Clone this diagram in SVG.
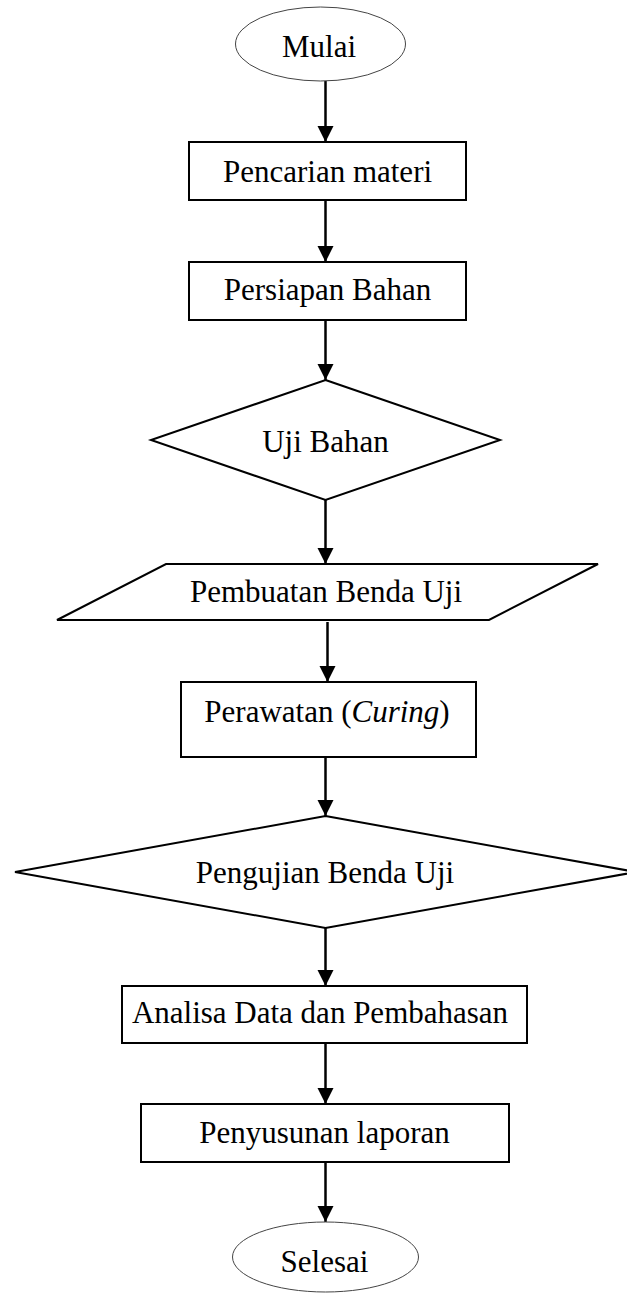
<svg xmlns="http://www.w3.org/2000/svg" width="627" height="1293" viewBox="0 0 627 1293">
<style>
.shape{fill:#fff;stroke:#000;stroke-width:2}
.term{fill:#fff;stroke:#444;stroke-width:1}
.lbl{font-family:"Liberation Serif","Times New Roman",serif;font-size:31px;fill:#000;text-anchor:middle}
.conn{stroke:#000;stroke-width:2.5;fill:none}
</style>
<defs>
<marker id="ah" markerUnits="userSpaceOnUse" markerWidth="16" markerHeight="17" refX="16" refY="8" orient="auto" viewBox="0 0 16 16">
<path d="M0,0 L16,8 L0,16 z" fill="#000"/>
</marker>
</defs>
<rect width="627" height="1293" fill="#fff"/>
<g id="connectors">
<line class="conn" x1="325.5" y1="81" x2="325.5" y2="142" marker-end="url(#ah)"/>
<line class="conn" x1="325.5" y1="200" x2="325.5" y2="262" marker-end="url(#ah)"/>
<line class="conn" x1="325.5" y1="320" x2="325.5" y2="380" marker-end="url(#ah)"/>
<line class="conn" x1="325.5" y1="500" x2="325.5" y2="564" marker-end="url(#ah)"/>
<line class="conn" x1="327.5" y1="622" x2="327.5" y2="682" marker-end="url(#ah)"/>
<line class="conn" x1="325.5" y1="757" x2="325.5" y2="816" marker-end="url(#ah)"/>
<line class="conn" x1="325.5" y1="928" x2="325.5" y2="986" marker-end="url(#ah)"/>
<line class="conn" x1="325.5" y1="1043" x2="325.5" y2="1104" marker-end="url(#ah)"/>
<line class="conn" x1="325.5" y1="1162" x2="325.5" y2="1222" marker-end="url(#ah)"/>
</g>
<g id="mulai">
<ellipse class="term" cx="320.5" cy="44" rx="85" ry="37"/>
<text class="lbl" x="319" y="57">Mulai</text>
</g>
<g id="pencarian">
<rect class="shape" x="189" y="142" width="277" height="58"/>
<text class="lbl" x="327.5" y="182">Pencarian materi</text>
</g>
<g id="persiapan">
<rect class="shape" x="189" y="262" width="277" height="58"/>
<text class="lbl" x="327.5" y="300">Persiapan Bahan</text>
</g>
<g id="uji-bahan">
<polygon class="shape" points="325.5,380 500,440 325.5,500 151,440"/>
<text class="lbl" x="325.5" y="452">Uji Bahan</text>
</g>
<g id="pembuatan">
<polygon class="shape" points="166,564 598,564 489,620 57,620"/>
<text class="lbl" x="326" y="602">Pembuatan Benda Uji</text>
</g>
<g id="perawatan">
<rect class="shape" x="181" y="682" width="295" height="75"/>
<text class="lbl" x="327" y="722">Perawatan (<tspan font-style="italic">Curing</tspan>)</text>
</g>
<g id="pengujian">
<polygon class="shape" points="325.5,816 636,872 325.5,928 15,872"/>
<text class="lbl" x="325" y="883">Pengujian Benda Uji</text>
</g>
<g id="analisa">
<rect class="shape" x="122" y="986" width="405" height="57"/>
<text class="lbl" x="320" y="1023">Analisa Data dan Pembahasan</text>
</g>
<g id="penyusunan">
<rect class="shape" x="141" y="1104" width="368" height="58"/>
<text class="lbl" x="324.5" y="1143">Penyusunan laporan</text>
</g>
<g id="selesai">
<ellipse class="term" cx="325.5" cy="1257" rx="93" ry="35"/>
<text class="lbl" x="324.5" y="1272">Selesai</text>
</g>
</svg>
